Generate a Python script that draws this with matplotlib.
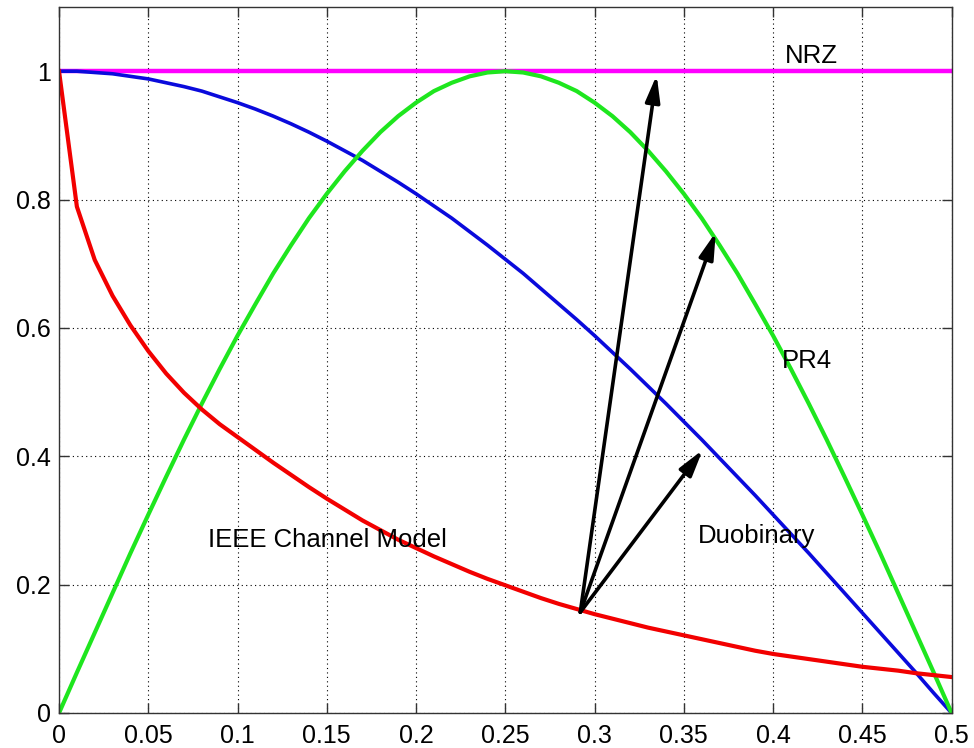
import matplotlib
matplotlib.use("Agg")
import matplotlib.pyplot as plt

plt.rcParams['font.family'] = ['Liberation Sans', 'DejaVu Sans']

# normalized frequency axis (0 .. 0.5, step 0.01)
freq = [round(0.01 * k, 2) for k in range(51)]

# IEEE channel model response
ieee = [1.0, 0.789, 0.706, 0.650, 0.604, 0.564, 0.529, 0.499, 0.473, 0.450,
        0.430, 0.410, 0.390, 0.371, 0.352, 0.334, 0.317, 0.300, 0.285, 0.270,
        0.257, 0.244, 0.232, 0.220, 0.209, 0.199, 0.189, 0.179, 0.170, 0.162,
        0.154, 0.147, 0.140, 0.133, 0.127, 0.121, 0.115, 0.109, 0.103, 0.097,
        0.092, 0.088, 0.084, 0.080, 0.076, 0.072, 0.069, 0.066, 0.062, 0.059,
        0.056]

# duobinary response
duobinary = [1.0, 1.0, 0.998, 0.996, 0.992, 0.988, 0.982, 0.976, 0.969, 0.960,
             0.951, 0.941, 0.930, 0.918, 0.905, 0.891, 0.876, 0.861, 0.844, 0.827,
             0.809, 0.790, 0.771, 0.750, 0.729, 0.707, 0.685, 0.661, 0.637, 0.613,
             0.588, 0.562, 0.536, 0.509, 0.482, 0.454, 0.426, 0.397, 0.368, 0.339,
             0.309, 0.279, 0.249, 0.218, 0.187, 0.156, 0.125, 0.094, 0.063, 0.031,
             0.0]

# PR4 response
pr4 = [0.0, 0.063, 0.125, 0.187, 0.249, 0.309, 0.368, 0.426, 0.482, 0.536,
       0.588, 0.637, 0.685, 0.729, 0.771, 0.809, 0.844, 0.876, 0.905, 0.930,
       0.951, 0.969, 0.982, 0.992, 0.998, 1.0, 0.998, 0.992, 0.982, 0.969,
       0.951, 0.930, 0.905, 0.876, 0.844, 0.809, 0.771, 0.729, 0.685, 0.637,
       0.588, 0.536, 0.482, 0.426, 0.368, 0.309, 0.249, 0.187, 0.125, 0.063,
       0.0]

# NRZ response (flat)
nrz_x = [0.0, 0.5]
nrz = [1.0, 1.0]

# arrows from the IEEE curve towards the other targets
arrow_tail = (0.292, 0.157)
arrow_heads = [(0.3348, 0.994), (0.3679, 0.749), (0.3606, 0.41)]

xticks = [0, 0.05, 0.1, 0.15, 0.2, 0.25, 0.3, 0.35, 0.4, 0.45, 0.5]
xlabels = ["0", "0.05", "0.1", "0.15", "0.2", "0.25", "0.3", "0.35", "0.4", "0.45", "0.5"]
yticks = [0, 0.2, 0.4, 0.6, 0.8, 1.0]
ylabels = ["0", "0.2", "0.4", "0.6", "0.8", "1"]

fig = plt.figure(figsize=(9.74, 7.48), dpi=100)
ax = fig.add_axes([0.0606, 0.0468, 0.9164, 0.9438])

ax.plot(nrz_x, nrz, color="#ff00ff", lw=3.2, solid_capstyle="butt")
ax.plot(freq, duobinary, color="#0a0adc", lw=2.6)
ax.plot(freq, pr4, color="#1ee61e", lw=3.0)
ax.plot(freq, ieee, color="#f20000", lw=3.0)

for hx, hy in arrow_heads:
    ax.annotate("", xy=(hx, hy), xytext=arrow_tail,
                arrowprops=dict(arrowstyle="-|>,head_length=0.8,head_width=0.22",
                                mutation_scale=20, color="black", lw=2.6,
                                shrinkA=0, shrinkB=0))

label_kw = dict(fontsize=18.5, color="black", ha="left", va="baseline")
ax.text(0.4065, 1.0125, "NRZ", **label_kw)
ax.text(0.405, 0.537, "PR4", **label_kw)
ax.text(0.0834, 0.2586, "IEEE Channel Model", **label_kw)
ax.text(0.3578, 0.2648, "Duobinary", **label_kw)

ax.set_xlim(0, 0.5)
ax.set_ylim(0, 1.1)
ax.set_xticks(xticks)
ax.set_xticklabels(xlabels)
ax.set_yticks(yticks)
ax.set_yticklabels(ylabels)
ax.tick_params(direction="in", length=7, width=1, top=True, right=True,
               labelsize=18, color="#333333")
ax.tick_params(axis="x", pad=8)
ax.tick_params(axis="y", pad=6)
ax.grid(True, color="black", linestyle=(0, (1, 3)), linewidth=0.8)
for sp in ax.spines.values():
    sp.set_color("#333333")
    sp.set_linewidth(1.0)

fig.savefig("out.png", dpi=100)
